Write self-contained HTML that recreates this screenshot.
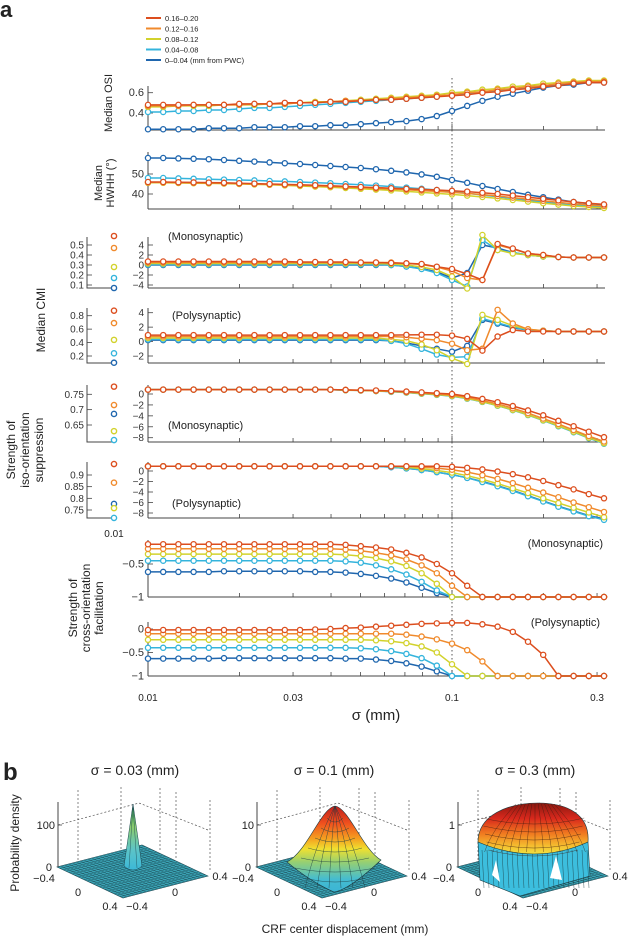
<!DOCTYPE html>
<html><head><meta charset="utf-8"><style>
html,body{margin:0;padding:0;background:#fff;}
svg{display:block;font-family:"Liberation Sans",sans-serif;}
</style></head><body>
<svg id="fig" width="630" height="939" viewBox="0 0 630 939" xmlns="http://www.w3.org/2000/svg">
<defs>
<linearGradient id="gSpike" x1="0" y1="0" x2="0" y2="1"><stop offset="0" stop-color="#2f9a55"/><stop offset="0.35" stop-color="#8ccc70"/><stop offset="0.7" stop-color="#5cc4c8"/><stop offset="1" stop-color="#3bb8d8"/></linearGradient>
<linearGradient id="gBell" x1="0" y1="0" x2="0" y2="1"><stop offset="0" stop-color="#c0201c"/><stop offset="0.2" stop-color="#f0501e"/><stop offset="0.38" stop-color="#f5a020"/><stop offset="0.5" stop-color="#f0e030"/><stop offset="0.65" stop-color="#98d070"/><stop offset="0.85" stop-color="#45bcd0"/><stop offset="1" stop-color="#3bb5d5"/></linearGradient>
<linearGradient id="gDome" x1="0" y1="0" x2="0" y2="1"><stop offset="0" stop-color="#8a1810"/><stop offset="0.3" stop-color="#d8281c"/><stop offset="0.6" stop-color="#f07a20"/><stop offset="0.85" stop-color="#f5c030"/><stop offset="1" stop-color="#f0e040"/></linearGradient>
</defs>
<g id="partA"></g>
<g id="partB"></g>
</svg>
<script>
// ---------- DATA ----------
const seriesNames = ['0-0.04','0.04-0.08','0.08-0.12','0.12-0.16','0.16-0.20'];
const colors = ['#1f66ae','#34b4dc','#d2d22c','#f08a2c','#dc4e1e'];
const legendLabels = ['0.16\u20130.20','0.12\u20130.16','0.08\u20130.12','0.04\u20130.08','0\u20130.04 (mm from PWC)'];
const xTickLabels = ['0.01','0.03','0.1','0.3'];
const xTickValues = [0.01,0.03,0.1,0.3];
const xMinorTicks = [0.01,0.02,0.03,0.04,0.05,0.06,0.07,0.08,0.09,0.1,0.2,0.3];
const sigmaIndex = [0,1,2,3,4,5,6,7,8,9,10,11,12,13,14,15,16,17,18,19,20,21,22,23,24,25,26,27,28,29,30];

// OSI
const osiBlue   = [.24,.24,.24,.24,.25,.25,.25,.26,.26,.26,.27,.27,.28,.28,.29,.30,.31,.32,.34,.37,.42,.47,.52,.56,.59,.62,.65,.67,.68,.70,.70];
const osiCyan   = [.41,.41,.42,.42,.43,.43,.44,.45,.45,.46,.47,.48,.49,.50,.51,.52,.53,.54,.55,.56,.58,.59,.61,.62,.64,.65,.67,.68,.70,.71,.71];
const osiYellow = [.46,.46,.47,.47,.47,.48,.48,.48,.49,.49,.50,.51,.51,.52,.53,.54,.55,.56,.57,.58,.60,.61,.63,.64,.66,.67,.69,.70,.71,.72,.72];
const osiOrange = [.47,.47,.47,.48,.48,.48,.48,.49,.49,.49,.50,.50,.51,.52,.52,.53,.54,.55,.56,.57,.58,.60,.61,.63,.64,.66,.67,.69,.70,.71,.71];
const osiRed    = [.48,.48,.48,.48,.48,.48,.49,.49,.49,.50,.50,.50,.51,.51,.52,.53,.53,.54,.55,.56,.57,.58,.60,.61,.63,.64,.66,.67,.69,.70,.70];
// HWHH
const hwBlue   = [58,58,57.8,57.6,57.4,57,56.6,56.2,55.8,55.4,55,54.5,54,53.5,53,52.4,51.6,50.8,49.8,48.6,47,45.6,44,42.5,41,39.6,38.4,37.2,36,35.2,34.6];
const hwCyan   = [48,48,47.8,47.6,47.4,47.2,47,46.8,46.5,46.3,46,45.7,45.4,45,44.6,44.2,43.7,43.2,42.6,42,41.2,40.4,39.5,38.6,37.7,36.8,36,35.2,34.5,34,33.5];
const hwYellow = [45.6,45.6,45.5,45.4,45.3,45.2,45,44.8,44.6,44.3,44,43.7,43.4,43,42.6,42.2,41.8,41.3,40.8,40.3,39.8,39.2,38.5,37.8,37,36.2,35.4,34.7,34,33.5,33];
const hwOrange = [45.8,45.8,45.7,45.6,45.5,45.4,45.2,45,44.8,44.6,44.4,44.1,43.8,43.5,43.2,42.8,42.5,42.1,41.7,41.3,40.8,40.3,39.7,39,38.2,37.4,36.6,35.8,35.1,34.5,34];
const hwRed    = [46,46,45.9,45.8,45.7,45.6,45.4,45.2,45,44.8,44.6,44.4,44.1,43.8,43.5,43.2,42.9,42.6,42.3,42,41.6,41.2,40.6,40,39.2,38.4,37.6,36.8,36,35.4,34.8];
// CMI mono
const cmiMBlue   = [0,0,0,0,0,0,0,0,0,0,0,0,0,0,0,0,0,-.3,-.7,-1.4,-2.6,-1.6,4.0,3.4,2.5,2.0,1.7,1.6,1.5,1.5,1.5];
const cmiMCyan   = [.1,.1,.1,.1,.1,.1,.1,.1,.1,.1,.1,.1,.1,.1,.1,.1,0,-.3,-.8,-1.6,-3,-4.3,5.0,3.0,2.5,2.0,1.7,1.6,1.5,1.5,1.5];
const cmiMYellow = [.3,.3,.3,.3,.3,.3,.3,.3,.3,.3,.3,.3,.3,.3,.3,.3,.2,0,-.4,-1,-2.3,-4.7,6.0,3.0,2.3,2.0,1.7,1.6,1.5,1.5,1.5];
const cmiMOrange = [.5,.5,.5,.5,.5,.5,.5,.5,.5,.5,.5,.5,.5,.5,.5,.5,.5,.3,.1,-.4,-1.2,-2.6,-3,4.0,3.2,2.3,2.0,1.6,1.5,1.5,1.5];
const cmiMRed    = [.7,.7,.7,.7,.7,.7,.7,.7,.7,.7,.6,.6,.6,.6,.5,.5,.4,.34,.2,-.34,-.8,-1.8,-3,4.2,3.3,2.3,2.0,1.6,1.5,1.5,1.5];
const cmiMLeft = [0.07,0.17,0.28,0.47,0.59];
// CMI poly
const cmiPBlue   = [.2,.2,.2,.2,.2,.2,.2,.2,.2,.2,.2,.2,.2,.2,.2,.2,.1,-.2,-.6,-1.0,-1.4,-.6,3.0,2.5,1.9,1.6,1.5,1.4,1.4,1.4,1.4];
const cmiPCyan   = [.3,.3,.3,.3,.3,.3,.3,.3,.3,.3,.3,.3,.3,.3,.3,.3,.1,-.3,-1.0,-1.8,-2.2,-2.1,3.2,2.6,2.0,1.6,1.5,1.4,1.4,1.4,1.4];
const cmiPYellow = [.5,.5,.5,.5,.5,.5,.5,.5,.5,.5,.5,.5,.5,.5,.5,.5,.3,.1,-.4,-1.2,-2.3,-3.1,3.7,3.0,2.2,1.7,1.5,1.4,1.4,1.4,1.4];
const cmiPOrange = [.7,.7,.7,.7,.7,.7,.7,.7,.7,.7,.7,.7,.7,.7,.7,.7,.7,.6,.4,.2,-.3,-1.2,-1.0,4.4,2.5,1.7,1.5,1.4,1.4,1.4,1.4];
const cmiPRed    = [.9,.9,.9,.9,.9,.9,.9,.9,.9,.9,.9,.9,.9,.9,.9,.9,.9,.93,.95,.95,.83,.37,-1.25,.7,1.6,1.4,1.4,1.4,1.4,1.4,1.4];
const cmiPLeft = [0.1,0.24,0.44,0.69,0.875];
// Iso mono
const isoMBlue   = [.8,.8,.8,.8,.8,.8,.8,.8,.8,.8,.8,.8,.8,.72,.66,.56,.45,.3,.1,-.1,-.35,-.8,-1.4,-2.1,-2.9,-3.8,-4.8,-5.85,-6.9,-7.9,-8.9];
const isoMCyan   = [.8,.8,.8,.8,.8,.8,.8,.8,.8,.8,.8,.8,.8,.7,.65,.55,.4,.25,.05,-.15,-.4,-.85,-1.45,-2.15,-2.95,-3.85,-4.85,-5.9,-7.0,-8.1,-9.1];
const isoMYellow = [.8,.8,.8,.8,.8,.8,.8,.8,.8,.8,.8,.8,.8,.7,.65,.55,.45,.3,.1,-.1,-.35,-.8,-1.4,-2.1,-2.9,-3.8,-4.8,-5.8,-6.9,-8.0,-9.0];
const isoMOrange = [.8,.8,.8,.8,.8,.8,.8,.8,.8,.8,.8,.8,.8,.75,.7,.6,.5,.35,.2,0,-.2,-.6,-1.2,-1.8,-2.6,-3.5,-4.5,-5.5,-6.6,-7.7,-8.7];
const isoMRed    = [.8,.8,.8,.8,.8,.8,.8,.8,.8,.8,.8,.8,.8,.75,.7,.65,.55,.45,.3,.15,0,-.4,-.9,-1.5,-2.2,-3,-3.9,-4.9,-5.9,-6.9,-7.9];
const isoMLeft = [0.686,0.601,0.63,0.715,0.775];
// Iso poly
const isoPBlue   = [.9,.9,.9,.9,.9,.9,.9,.9,.9,.9,.9,.9,.9,.9,.9,.9,.75,.5,.2,-.2,-.7,-1.3,-2.0,-2.8,-3.7,-4.7,-5.7,-6.7,-7.6,-8.5,-9.1];
const isoPCyan   = [.9,.9,.9,.9,.9,.9,.9,.9,.9,.9,.9,.9,.9,.9,.9,.9,.75,.5,.2,-.2,-.7,-1.3,-2.1,-2.9,-3.8,-4.8,-5.8,-6.8,-7.7,-8.6,-9.3];
const isoPYellow = [.9,.9,.9,.9,.9,.9,.9,.9,.9,.9,.9,.9,.9,.9,.9,.9,.9,.7,.45,.1,-.3,-.9,-1.6,-2.4,-3.3,-4.2,-5.2,-6.1,-7.0,-7.9,-8.8];
const isoPOrange = [.9,.9,.9,.9,.9,.9,.9,.9,.9,.9,.9,.9,.9,.9,.9,.9,.9,.9,.75,.55,.25,-.2,-.8,-1.5,-2.3,-3.2,-4.1,-5.0,-6.0,-6.9,-7.8];
const isoPRed    = [.9,.9,.9,.9,.9,.9,.9,.9,.9,.9,.9,.9,.9,.9,.9,.9,.9,.9,.9,.9,.8,.6,.3,-.1,-.6,-1.2,-1.9,-2.7,-3.5,-4.4,-5.2];
const isoPLeft = [0.776,0.716,0.758,0.867,0.947];
// Cross mono
const crMBlue   = [-.62,-.62,-.62,-.62,-.62,-.61,-.61,-.61,-.61,-.61,-.61,-.62,-.62,-.63,-.65,-.68,-.72,-.78,-.86,-.94,-1,-1,-1,-1,-1,-1,-1,-1,-1,-1,-1];
const crMCyan   = [-.45,-.45,-.45,-.45,-.45,-.45,-.45,-.45,-.45,-.45,-.45,-.45,-.45,-.46,-.48,-.52,-.58,-.66,-.77,-.9,-1,-1,-1,-1,-1,-1,-1,-1,-1,-1,-1];
const crMYellow = [-.35,-.35,-.35,-.35,-.35,-.35,-.35,-.35,-.35,-.35,-.35,-.35,-.35,-.36,-.38,-.41,-.46,-.53,-.64,-.8,-1,-1,-1,-1,-1,-1,-1,-1,-1,-1,-1];
const crMOrange = [-.27,-.27,-.27,-.27,-.27,-.27,-.27,-.27,-.27,-.27,-.27,-.27,-.27,-.28,-.3,-.33,-.37,-.43,-.52,-.64,-.83,-1,-1,-1,-1,-1,-1,-1,-1,-1,-1];
const crMRed    = [-.2,-.2,-.2,-.2,-.2,-.2,-.2,-.2,-.2,-.2,-.2,-.2,-.2,-.21,-.23,-.25,-.28,-.33,-.4,-.5,-.64,-.83,-1,-1,-1,-1,-1,-1,-1,-1,-1];
// Cross poly
const crPBlue   = [-.63,-.63,-.63,-.63,-.63,-.62,-.62,-.62,-.62,-.62,-.62,-.62,-.62,-.63,-.63,-.65,-.68,-.73,-.8,-.9,-1,-1,-1,-1,-1,-1,-1,-1,-1,-1,-1];
const crPCyan   = [-.4,-.4,-.4,-.4,-.4,-.4,-.4,-.4,-.4,-.4,-.4,-.4,-.4,-.4,-.41,-.43,-.47,-.53,-.62,-.78,-1,-1,-1,-1,-1,-1,-1,-1,-1,-1,-1];
const crPYellow = [-.23,-.23,-.23,-.23,-.23,-.23,-.23,-.23,-.23,-.23,-.23,-.23,-.23,-.23,-.23,-.24,-.26,-.3,-.37,-.5,-.75,-1,-1,-1,-1,-1,-1,-1,-1,-1,-1];
const crPOrange = [-.1,-.1,-.1,-.1,-.1,-.1,-.1,-.1,-.1,-.1,-.1,-.1,-.1,-.1,-.1,-.1,-.1,-.12,-.16,-.22,-.31,-.45,-.69,-1,-1,-1,-1,-1,-1,-1,-1];
const crPRed    = [-.02,-.02,-.02,-.02,-.02,-.02,-.02,-.02,-.02,-.02,-.02,-.01,0,.02,.03,.05,.07,.09,.11,.12,.13,.13,.1,.05,-.06,-.27,-.55,-1,-1,-1,-1];

// ---------- helpers ----------
const NS='http://www.w3.org/2000/svg';
const partA=document.getElementById('partA');
const partB=document.getElementById('partB');
function mk(tag,attrs,parent){const e=document.createElementNS(NS,tag);for(const k in attrs)e.setAttribute(k,attrs[k]);(parent||partA).appendChild(e);return e;}
function xScale(k){return 148+15.2*k;}
function xVal(v){return 148+304*Math.log10(v/0.01);}
function linScale(v1,p1,v2,p2){return v=>p1+(v-v1)*(p2-p1)/(v2-v1);}
function fmt(v){return (v<0?'\u2212':'')+String(Math.abs(v));}
const AX='#444';

function bottomAxis(y,name){
  const l=mk('line',{x1:148,y1:y,x2:605,y2:y,stroke:AX,'stroke-width':1});
  
  
  xMinorTicks.forEach(v=>{
    const x=xVal(v);const len=(v===0.01||v===0.1)?6:4;
    const t=mk('line',{x1:x,y1:y,x2:x,y2:y-len,stroke:AX,'stroke-width':0.8});
    
    
  });
}
function yAxis(x,top,bottom,sc,ticks,labels,name,fs,labX){
  const l=mk('line',{x1:x,y1:top,x2:x,y2:bottom,stroke:AX,'stroke-width':1});
  
  
  ticks.forEach((v,i)=>{
    const y=sc(v);
    const t=mk('line',{x1:x,y1:y,x2:x+5,y2:y,stroke:AX,'stroke-width':0.8});
    
    
    const tx=mk('text',{x:labX,y:y+3.5,'font-size':fs,'text-anchor':'end',fill:'#333'});
    tx.textContent=labels[i];
    
    
  });
}
function drawSeries(arrs,sc,name){
  arrs.forEach((arr,si)=>{
    const g=mk('g',{});
    
    
    const pts=arr.map((v,k)=>xScale(sigmaIndex[k]).toFixed(1)+','+sc(v).toFixed(1)).join(' ');
    const pl=mk('polyline',{points:pts,fill:'none',stroke:colors[si],'stroke-width':1.5},g);
    
    
    arr.forEach((v,k)=>{
      const c=mk('circle',{cx:xScale(sigmaIndex[k]),cy:sc(v),r:2.6,fill:'#fff',stroke:colors[si],'stroke-width':1.3},g);
      
      
    });
  });
}
function leftAxis(top,bottom,sc,ticks,vals,name){
  const l=mk('polyline',{points:'87,'+top+' 87,'+bottom+' 114,'+bottom,fill:'none',stroke:AX,'stroke-width':1});
  
  
  ticks.forEach(v=>{
    const y=sc(v);
    const t=mk('line',{x1:87,y1:y,x2:92,y2:y,stroke:AX,'stroke-width':0.8});
    
    
    const tx=mk('text',{x:84,y:y+3.5,'font-size':10,'text-anchor':'end',fill:'#333'});
    tx.textContent=String(v);
    
    
  });
  vals.forEach((v,si)=>{
    const c=mk('circle',{cx:114,cy:sc(v),r:2.6,fill:'#fff',stroke:colors[si],'stroke-width':1.4});
    
    
  });
}
function label(x,y,txt,fs,name,anchor,rot){
  const t=mk('text',{x:x,y:y,'font-size':fs,'text-anchor':anchor||'start',fill:'#222'});
  if(rot)t.setAttribute('transform','rotate(-90 '+x+' '+y+')');
  t.textContent=txt;
  
  
  return t;
}

// ---------- part a ----------
label(0,17,'a',22,'panel-a-letter').setAttribute('font-weight','bold');
legendLabels.forEach((t,i)=>{
  const y=18+10.5*i;
  const l=mk('line',{x1:146,y1:y,x2:161,y2:y,stroke:colors[4-i],'stroke-width':2});
  
  
  label(165,y+2.8,t,7.5,'legend-entry');
});
const dl=mk('line',{x1:xVal(0.1),y1:78,x2:xVal(0.1),y2:680,stroke:'#444','stroke-width':0.9,'stroke-dasharray':'1.5,2.5'});



const panels=[
 {name:'osi',top:86,bottom:130,sc:linScale(0.6,92.7,0.4,113),ticks:[0.4,0.6],labels:['0.4','0.6'],data:[osiBlue,osiCyan,osiYellow,osiOrange,osiRed]},
 {name:'hwhh',top:152,bottom:209,sc:linScale(50,174,40,194),ticks:[40,50],labels:['40','50'],data:[hwBlue,hwCyan,hwYellow,hwOrange,hwRed]},
 {name:'cmi-mono',top:237,bottom:288,sc:linScale(4,245,-4,285),ticks:[-4,-2,0,2,4],data:[cmiMBlue,cmiMCyan,cmiMYellow,cmiMOrange,cmiMRed],left:{sc:linScale(0.5,245,0.1,285),ticks:[0.1,0.2,0.3,0.4,0.5],vals:cmiMLeft,top:237}},
 {name:'cmi-poly',top:308,bottom:363,sc:linScale(4,312.7,-2,356),ticks:[-2,0,2,4],data:[cmiPBlue,cmiPCyan,cmiPYellow,cmiPOrange,cmiPRed],left:{sc:linScale(0.8,315.7,0.2,356),ticks:[0.2,0.4,0.6,0.8],vals:cmiPLeft,top:308}},
 {name:'iso-mono',top:385,bottom:442,sc:linScale(0,394,-8,437.7),ticks:[-8,-6,-4,-2,0],data:[isoMBlue,isoMCyan,isoMYellow,isoMOrange,isoMRed],left:{sc:linScale(0.75,394.3,0.65,425),ticks:[0.65,0.7,0.75],vals:isoMLeft,top:385}},
 {name:'iso-poly',top:462,bottom:518,sc:linScale(0,471,-8,513),ticks:[-8,-6,-4,-2,0],data:[isoPBlue,isoPCyan,isoPYellow,isoPOrange,isoPRed],left:{sc:linScale(0.9,475,0.75,510),ticks:[0.75,0.8,0.85,0.9],vals:isoPLeft,top:462}},
 {name:'cross-mono',top:540,bottom:597,sc:linScale(-0.5,564,-1,597),ticks:[-1,-0.5],labels:['\u22121','\u22120.5'],data:[crMBlue,crMCyan,crMYellow,crMOrange,crMRed]},
 {name:'cross-poly',top:622,bottom:676,sc:linScale(0,629,-1,676),ticks:[-1,-0.5,0],labels:['\u22121','\u22120.5','0'],data:[crPBlue,crPCyan,crPYellow,crPOrange,crPRed]}
];
panels.forEach(p=>{
  bottomAxis(p.bottom,p.name);
  const labs=p.labels||p.ticks.map(fmt);
  yAxis(148,p.top,p.bottom,p.sc,p.ticks,labs,p.name,p.left?10:11,144);
  if(p.left)leftAxis(p.left.top,p.bottom,p.left.sc,p.left.ticks,p.left.vals,p.name);
  drawSeries(p.data,p.sc,p.name);
});
label(168,240,'(Monosynaptic)',11,'cmi-mono-title');
label(172,319,'(Polysynaptic)',11,'cmi-poly-title');
label(168,429,'(Monosynaptic)',11,'iso-mono-title');
label(172,507,'(Polysynaptic)',11,'iso-poly-title');
label(603,547,'(Monosynaptic)',11,'cross-mono-title','end');
label(600,626,'(Polysynaptic)',11,'cross-poly-title','end');
label(114,537,'0.01',10,'iso-x-origin-label','middle');
label(112,103,'Median OSI',11,'osi-y-label','middle',true);
label(102,183,'Median',11,'hwhh-y-label-line1','middle',true);
label(114,183,'HWHH (\u00b0)',11,'hwhh-y-label-line2','middle',true);
label(45,320,'Median CMI',12,'cmi-y-label','middle',true);
label(15,450,'Strength of',12,'iso-y-label-line1','middle',true);
label(29,450,'iso-orientation',12,'iso-y-label-line2','middle',true);
label(43,450,'suppression',12,'iso-y-label-line3','middle',true);
label(77,608,'Strength of',12,'cross-y-label-line1','middle',true);
label(90,608,'cross-orientation',12,'cross-y-label-line2','middle',true);
label(103,608,'facilitation',12,'cross-y-label-line3','middle',true);
xTickValues.forEach((v,i)=>{label(xVal(v),701,xTickLabels[i],10,'x-tick-label','middle');});
label(376,720,'\u03c3 (mm)',15,'x-axis-title','middle');

// ---------- part b ----------
function mkB(tag,attrs){return mk(tag,attrs,partB);}
function labB(x,y,txt,fs,name,anchor,rot){const t=mkB('text',{x:x,y:y,'font-size':fs,'text-anchor':anchor||'start',fill:'#222'});if(rot)t.setAttribute('transform','rotate(-90 '+x+' '+y+')');t.textContent=txt;return t;}
const bt=labB(3,780,'b',24,'panel-b-letter');bt.setAttribute('font-weight','bold');
const bTitles=['\u03c3 = 0.03 (mm)','\u03c3 = 0.1 (mm)','\u03c3 = 0.3 (mm)'];
const bZ=['100','10','1'];
const offs=[0,199,400];
offs.forEach((dx,pi)=>{
  const g=mkB('g',{transform:'translate('+dx+',0)'});
  
  
  const add=(tag,a)=>mk(tag,a,g);
  const dash={stroke:'#555','stroke-width':0.7,'stroke-dasharray':'2,2',fill:'none'};
  add('polyline',Object.assign({points:'58,825 139,803 208,830'},dash));
  [78,121,160,176,210].forEach((x,i)=>{add('line',Object.assign({x1:x,y1:[790,787,788,792,800][i],x2:x,y2:[865,850,852,858,872][i]},dash));});
  const L=[57,867],F=[123,898],R=[208,876],B=[142,845];
  add('polygon',{points:[L,F,R,B].map(p=>p.join(',')).join(' '),fill:'#3aa3b4',stroke:'#1a4550','stroke-width':0.6});
  for(let i=1;i<22;i++){const t=i/22;
    add('line',{x1:L[0]+(F[0]-L[0])*t,y1:L[1]+(F[1]-L[1])*t,x2:B[0]+(R[0]-B[0])*t,y2:B[1]+(R[1]-B[1])*t,stroke:'#1a4550','stroke-width':0.4});
    add('line',{x1:L[0]+(B[0]-L[0])*t,y1:L[1]+(B[1]-L[1])*t,x2:F[0]+(R[0]-F[0])*t,y2:F[1]+(R[1]-F[1])*t,stroke:'#1a4550','stroke-width':0.4});}
  add('line',{x1:58,y1:802,x2:58,y2:867,stroke:'#444','stroke-width':1});
  add('line',{x1:58,y1:825,x2:62,y2:825,stroke:'#444','stroke-width':0.8});
  const zl=add('text',{x:55,y:829,'font-size':11,'text-anchor':'end',fill:'#222'});zl.textContent=bZ[pi];
  
  
  const z0=add('text',{x:52,y:871,'font-size':11,'text-anchor':'end',fill:'#222'});z0.textContent='0';
  
  
  [[44,882,'\u22120.4'],[78,896,'0'],[110,910,'0.4'],[137,910,'\u22120.4'],[175,896,'0'],[220,880,'0.4']].forEach(a=>{
    const t=add('text',{x:a[0],y:a[1],'font-size':11,'text-anchor':'middle',fill:'#222'});t.textContent=a[2];
    
    
  });
  if(pi===0){
    add('path',{d:'M124,866 L133,804 L142,866 Q133,874 124,866 Z',fill:'url(#gSpike)',stroke:'#1a4550','stroke-width':0.5});
    add('path',{d:'M133,804 L129,868 M133,804 L137,868',stroke:'#1a4550','stroke-width':0.4,fill:'none'});
  } else if(pi===1){
    add('path',{d:'M88,862 C108,852 122,808 136,806 C150,808 164,850 182,860 Q150,890 135,892 Q112,882 88,862 Z',fill:'url(#gBell)',stroke:'#1a3a40','stroke-width':0.6});
    [818,828,838,848,858,868,878].forEach((y,i)=>{const w=[8,14,20,27,34,40,30][i];add('path',{d:'M'+(136-w)+','+y+' Q136,'+(y+8)+' '+(136+w)+','+y,fill:'none',stroke:'#1a3a40','stroke-width':0.4});});
    [-30,-18,-6,6,18,30].forEach(o=>{add('path',{d:'M136,806 Q'+(136+o*0.6)+',840 '+(136+o)+',888',fill:'none',stroke:'#1a3a40','stroke-width':0.4});});
  } else {
    add('path',{d:'M78,842 L80,880 L120,896 L190,876 L188,842 Q135,862 78,842 Z',fill:'#3cbede',stroke:'#1a3a40','stroke-width':0.6});
    for(let x=82;x<188;x+=5){add('line',{x1:x,y1:850,x2:x+2,y2:888,stroke:'#1a3a40','stroke-width':0.4});}
    add('path',{d:'M92,875 L96,860 L100,882 Z M150,878 L156,856 L162,880 Z',fill:'#fff'});
    add('path',{d:'M78,842 C78,815 108,803 138,803 C168,803 190,815 188,842 Q135,866 78,842 Z',fill:'url(#gDome)',stroke:'#1a3a40','stroke-width':0.6});
    [812,820,828,836,844].forEach(y=>{add('path',{d:'M'+(80+(y-803)*0.2)+','+(y+6)+' Q135,'+(y+18)+' '+(186-(y-803)*0.2)+','+(y+6),fill:'none',stroke:'#3a1a10','stroke-width':0.35});});
    for(let o=-48;o<=48;o+=8){add('path',{d:'M'+(135+o*0.4)+',804 Q'+(135+o*0.9)+',830 '+(135+o*1.05)+',852',fill:'none',stroke:'#3a1a10','stroke-width':0.35});}
  }
  const tt=add('text',{x:135,y:775,'font-size':14,'text-anchor':'middle',fill:'#222'});tt.textContent=bTitles[pi];
  
  
});
labB(19,843,'Probability density',12,'z-axis-title','middle',true);
labB(345,933,'CRF center displacement (mm)',12,'floor-axis-title','middle');
</script>
</body></html>
